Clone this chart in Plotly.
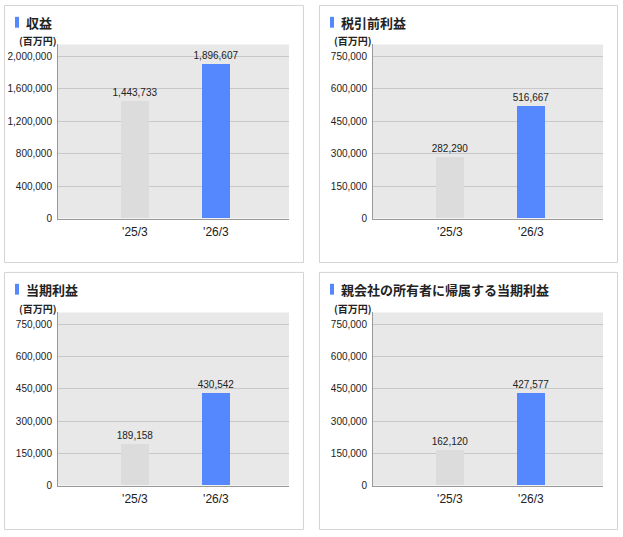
import plotly.graph_objects as go

W, H = 623, 537

categories = ["'25/3", "'26/3"]
titles = ["収益", "税引前利益", "当期利益", "親会社の所有者に帰属する当期利益"]
values_revenue = [1443733, 1896607]
values_pretax = [282290, 516667]
values_net = [189158, 430542]
values_parent = [162120, 427577]
series = [values_revenue, values_pretax, values_net, values_parent]
tick_max = [2000000, 750000, 750000, 750000]
tick_step = [400000, 150000, 150000, 150000]
unit_label = "(百万円)"

bar_colors = ["#dcdcdc", "#5588ff"]
font_fam = "Liberation Sans, Arial, sans-serif"
jp_fam = "Noto Sans CJK JP, sans-serif"

# panel geometry in pixels: (plot left, plot right, plot top, plot bottom, box left, box right, box top, box bottom)
panels = [
    (58, 289, 45, 221, 4, 303, 5, 265),
    (373, 603, 45, 221, 319, 617, 5, 265),
    (58, 289, 316, 491, 4, 303, 275, 535),
    (373, 603, 316, 491, 319, 617, 275, 535),
]

def px(x):
    return x / W

def py(y):
    return 1 - y / H

fig = go.Figure()
shapes = []
annotations = []
for i, (vals, (pl, pr, pt, pb, bl, br, bt, bb)) in enumerate(zip(series, panels)):
    n = "" if i == 0 else str(i + 1)
    fig.add_trace(go.Bar(
        x=categories, y=vals, xaxis="x" + n, yaxis="y" + n,
        marker=dict(color=bar_colors, line=dict(width=0)),
        width=0.345,
        text=[f"{v:,}" for v in vals], textposition="outside",
        constraintext="none",
        textfont=dict(family=font_fam, size=10, color="#222"),
        cliponaxis=False, showlegend=False, hoverinfo="skip",
    ))
    gridpx = 12
    ymax = tick_max[i] * (pb - pt) / (pb - pt - gridpx)
    fig.layout["xaxis" + n] = dict(
        domain=[px(pl), px(pr)], anchor="y" + n, type="category",
        range=[-0.95, -0.95 + (pr - pl) / 81.0],
        showgrid=False, showline=True, linecolor="#999", linewidth=1,
        tickfont=dict(family=font_fam, size=12, color="#222"),
        ticks="", ticklabelstandoff=2, fixedrange=True,
    )
    fig.layout["yaxis" + n] = dict(
        domain=[py(pb), py(pt)], anchor="x" + n,
        range=[0, ymax], tick0=0, dtick=tick_step[i], tickformat=",d",
        showgrid=True, gridcolor="#c8c8c8", gridwidth=1,
        showline=True, linecolor="#999", linewidth=1, zeroline=False,
        tickfont=dict(family=font_fam, size=10, color="#222"),
        ticks="", ticklabelstandoff=3, fixedrange=True,
    )
    # plot background
    shapes.append(dict(type="rect", xref="paper", yref="paper", layer="below",
                       x0=px(pl), x1=px(pr), y0=py(pb), y1=py(pt),
                       fillcolor="#e8e8e8", line=dict(width=0)))
    # panel border
    shapes.append(dict(type="rect", xref="paper", yref="paper",
                       x0=px(bl + 0.5), x1=px(br + 0.5), y0=py(bb + 0.5), y1=py(bt + 0.5),
                       line=dict(color="#d4d4d4", width=1)))
    # title marker
    shapes.append(dict(type="rect", xref="paper", yref="paper",
                       x0=px(bl + 11), x1=px(bl + 15), y0=py(bt + 23), y1=py(bt + 12),
                       fillcolor="#5588ff", line=dict(width=0)))
    annotations.append(dict(xref="paper", yref="paper", x=px(bl + 20), y=py(bt + 18),
                            xanchor="left", yanchor="middle", showarrow=False,
                            text="<b>" + titles[i] + "</b>",
                            font=dict(family=jp_fam, size=13, color="#222")))
    annotations.append(dict(xref="paper", yref="paper", x=px(pl + 1), y=py(pt - 4),
                            xanchor="right", yanchor="middle", showarrow=False,
                            text="<b>" + unit_label + "</b>",
                            font=dict(family=jp_fam, size=10, color="#222")))

fig.update_layout(
    width=W, height=H, margin=dict(l=0, r=0, t=0, b=0),
    paper_bgcolor="white", plot_bgcolor="rgba(0,0,0,0)",
    shapes=shapes, annotations=annotations, bargap=0,
)
fig.write_html("out.html", config={"displayModeBar": False})
